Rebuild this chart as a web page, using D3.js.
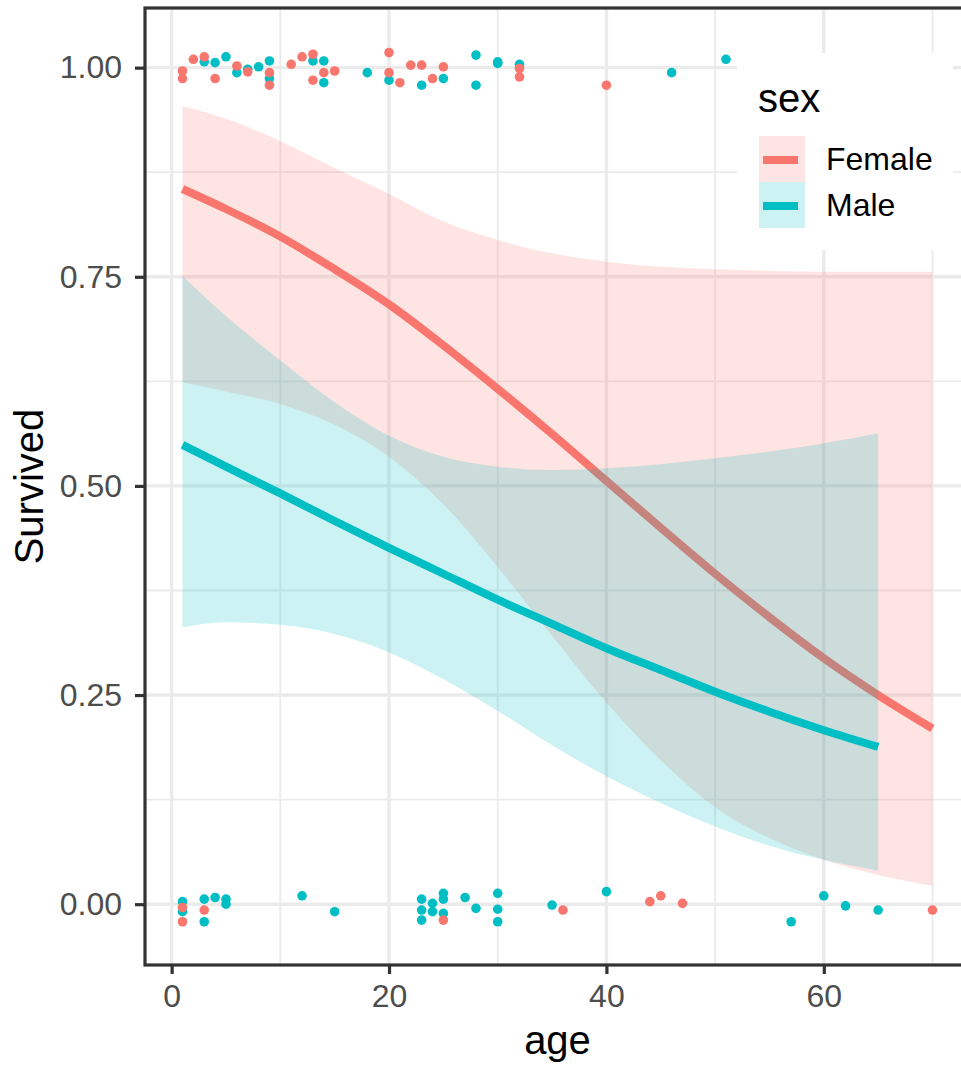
<!DOCTYPE html>
<html>
<head>
<meta charset="utf-8">
<script src="https://cdn.jsdelivr.net/npm/d3@7"></script>
<style>
  body { margin: 0; background: #fff; }
  svg { display: block; font-family: "Liberation Sans", Arial, sans-serif; }
</style>
</head>
<body>
<svg id="chart"></svg>
<script>
const width = 961;
const height = 1067;
const panel = { left: 145, right: 970, top: 8, bottom: 965 };

// fitted logistic curve + confidence band
const femaleAges = [1, 5, 10, 15, 20, 25, 30, 35, 40, 45, 50, 55, 60, 65, 70];
const femaleFit = [0.855, 0.831, 0.798, 0.759, 0.717, 0.668, 0.616, 0.562, 0.506, 0.45, 0.395, 0.343, 0.294, 0.25, 0.21];
const femaleLow = [0.624, 0.613, 0.598, 0.573, 0.535, 0.478, 0.403, 0.321, 0.241, 0.172, 0.116, 0.079, 0.053, 0.035, 0.022];
const femaleHigh = [0.954, 0.939, 0.912, 0.88, 0.849, 0.816, 0.794, 0.778, 0.768, 0.762, 0.759, 0.757, 0.756, 0.756, 0.756];

const maleAges = [1, 5, 10, 15, 20, 25, 30, 35, 40, 45, 50, 55, 60, 65];
const maleFit = [0.549, 0.523, 0.491, 0.458, 0.426, 0.395, 0.364, 0.335, 0.306, 0.28, 0.254, 0.23, 0.208, 0.188];
const maleLow = [0.331, 0.337, 0.334, 0.323, 0.301, 0.269, 0.231, 0.19, 0.153, 0.121, 0.093, 0.07, 0.053, 0.04];
const maleHigh = [0.751, 0.703, 0.65, 0.6, 0.56, 0.535, 0.523, 0.519, 0.521, 0.526, 0.533, 0.541, 0.551, 0.563];

// jittered observations [age, survived]
const femaleSurvived = [[1, 0.996], [1, 0.987], [2, 1.01], [3, 1.013], [4, 0.987], [6, 1.002], [7, 0.995],
  [9, 0.994], [9, 0.979], [11, 1.004], [12, 1.013], [13, 1.016], [13, 0.985], [14, 0.994], [15, 0.996],
  [20, 1.018], [20, 0.994], [21, 0.982], [22, 1.003], [23, 1.003], [24, 0.987], [25, 1.001], [32, 0.999],
  [32, 0.989], [40, 0.979]];
const maleSurvived = [[3, 1.007], [4, 1.006], [5, 1.013], [6, 0.994], [7, 0.998], [8, 1.001], [9, 1.008],
  [9, 0.987], [13, 1.008], [14, 1.008], [14, 0.982], [18, 0.994], [20, 0.985], [23, 0.979], [25, 0.987],
  [28, 1.015], [28, 0.979], [30, 1.007], [30, 1.005], [32, 1.004], [46, 0.994], [51, 1.01]];
const femaleDied = [[1, -0.004], [1, -0.021], [3, -0.007], [25, -0.019], [36, -0.007], [44, 0.003],
  [45, 0.01], [47, 0.001], [70, -0.007]];
const maleDied = [[1, 0.003], [1, -0.009], [3, 0.006], [3, -0.021], [4, 0.008], [5, 0.006], [5, 0],
  [12, 0.01], [15, -0.009], [23, 0.006], [23, -0.007], [23, -0.019], [24, 0.001], [24, -0.009],
  [25, 0.013], [25, 0.006], [25, -0.011], [27, 0.008], [28, -0.005], [30, 0.013], [30, -0.006],
  [30, -0.021], [35, -0.001], [40, 0.015], [57, -0.021], [60, 0.01], [62, -0.002], [65, -0.007]];

const xTicks = [0, 20, 40, 60];
const xMinor = [10, 30, 50, 70];
const yTicks = [0, 0.25, 0.5, 0.75, 1];
const yMinor = [0.125, 0.375, 0.625, 0.875];

const sexes = ['Female', 'Male'];
const colors = ['#F8766D', '#00BFC4'];

const svg = d3.select('#chart').attr('width', width).attr('height', height);

const x = d3.scaleLinear().domain([-2.45, 73.45]).range([panel.left, panel.right]);
const y = d3.scaleLinear().domain([-0.0727, 1.0713]).range([panel.bottom, panel.top]);
const color = d3.scaleOrdinal().domain(sexes).range(colors);

svg.append('defs').append('clipPath').attr('id', 'clip')
  .append('rect')
  .attr('x', panel.left).attr('y', panel.top)
  .attr('width', panel.right - panel.left).attr('height', panel.bottom - panel.top);

const plot = svg.append('g').attr('clip-path', 'url(#clip)');

// grid
plot.append('g').attr('stroke', '#EBEBEB').attr('stroke-width', 1.8)
  .selectAll('line').data(xMinor).join('line')
  .attr('x1', d => x(d)).attr('x2', d => x(d)).attr('y1', panel.top).attr('y2', panel.bottom);
plot.append('g').attr('stroke', '#EBEBEB').attr('stroke-width', 1.8)
  .selectAll('line').data(yMinor).join('line')
  .attr('y1', d => y(d)).attr('y2', d => y(d)).attr('x1', panel.left).attr('x2', panel.right);
plot.append('g').attr('stroke', '#EBEBEB').attr('stroke-width', 3.4)
  .selectAll('line').data(xTicks).join('line')
  .attr('x1', d => x(d)).attr('x2', d => x(d)).attr('y1', panel.top).attr('y2', panel.bottom);
plot.append('g').attr('stroke', '#EBEBEB').attr('stroke-width', 3.4)
  .selectAll('line').data(yTicks).join('line')
  .attr('y1', d => y(d)).attr('y2', d => y(d)).attr('x1', panel.left).attr('x2', panel.right);

// points
const dots = (data, sex) =>
  plot.append('g').attr('fill', color(sex))
    .selectAll('circle').data(data).join('circle')
    .attr('cx', d => x(d[0])).attr('cy', d => y(d[1])).attr('r', 4.8);
dots(maleSurvived, 'Male');
dots(maleDied, 'Male');
dots(femaleSurvived, 'Female');
dots(femaleDied, 'Female');

// smooths: ribbon then line, per group
const groups = [
  { sex: 'Female', ages: femaleAges, fit: femaleFit, low: femaleLow, high: femaleHigh },
  { sex: 'Male', ages: maleAges, fit: maleFit, low: maleLow, high: maleHigh }
];

const area = d3.area()
  .x(d => x(d.age)).y0(d => y(d.low)).y1(d => y(d.high))
  .curve(d3.curveMonotoneX);
const line = d3.line()
  .x(d => x(d.age)).y(d => y(d.fit))
  .curve(d3.curveMonotoneX);

groups.forEach(g => {
  const rows = g.ages.map((a, i) => ({ age: a, fit: g.fit[i], low: g.low[i], high: g.high[i] }));
  plot.append('path').datum(rows)
    .attr('fill', color(g.sex)).attr('fill-opacity', 0.2)
    .attr('d', area);
  plot.append('path').datum(rows)
    .attr('fill', 'none').attr('stroke', color(g.sex)).attr('stroke-width', 8)
    .attr('d', line);
});

// panel border
svg.append('rect')
  .attr('x', panel.left).attr('y', panel.top)
  .attr('width', panel.right - panel.left).attr('height', panel.bottom - panel.top)
  .attr('fill', 'none').attr('stroke', '#333333').attr('stroke-width', 3.2);

// axes
const styleAxis = g => {
  g.attr('font-family', null).attr('font-size', null);
  g.select('.domain').remove();
  g.selectAll('.tick line').attr('stroke', '#333333').attr('stroke-width', 3.2);
  g.selectAll('.tick text').attr('fill', '#4D4D4D').attr('font-size', '32px');
};

svg.append('g')
  .attr('transform', `translate(0,${panel.bottom})`)
  .call(d3.axisBottom(x).tickValues(xTicks).tickFormat(d3.format('d')).tickSize(9).tickPadding(10))
  .call(styleAxis);

svg.append('g')
  .attr('transform', `translate(${panel.left},0)`)
  .call(d3.axisLeft(y).tickValues(yTicks).tickFormat(d3.format('.2f')).tickSize(10).tickPadding(13))
  .call(styleAxis);

svg.append('text')
  .attr('x', (panel.left + panel.right) / 2).attr('y', 1054)
  .attr('text-anchor', 'middle').attr('font-size', '40px').attr('fill', '#000')
  .text('age');

svg.append('text')
  .attr('transform', `translate(43,${(panel.top + panel.bottom) / 2}) rotate(-90)`)
  .attr('text-anchor', 'middle').attr('font-size', '40px').attr('fill', '#000')
  .text('Survived');

// legend
const legend = svg.append('g');
legend.append('rect')
  .attr('x', 737).attr('y', 53).attr('width', 216).attr('height', 197)
  .attr('fill', '#fff');
legend.append('text')
  .attr('x', 758).attr('y', 112).attr('font-size', '40px').attr('fill', '#000')
  .text('sex');

const keys = legend.selectAll('g.key').data(sexes).join('g')
  .attr('class', 'key')
  .attr('transform', (d, i) => `translate(759,${136 + i * 46})`);
keys.append('rect')
  .attr('width', 46).attr('height', 46)
  .attr('fill', d => color(d)).attr('fill-opacity', 0.2);
keys.append('line')
  .attr('x1', 4).attr('x2', 39).attr('y1', 24).attr('y2', 24)
  .attr('stroke', d => color(d)).attr('stroke-width', 8);
keys.append('text')
  .attr('x', 67).attr('y', 23).attr('dy', '0.35em')
  .attr('font-size', '32px').attr('fill', '#000')
  .text(d => d);
</script>
</body>
</html>
